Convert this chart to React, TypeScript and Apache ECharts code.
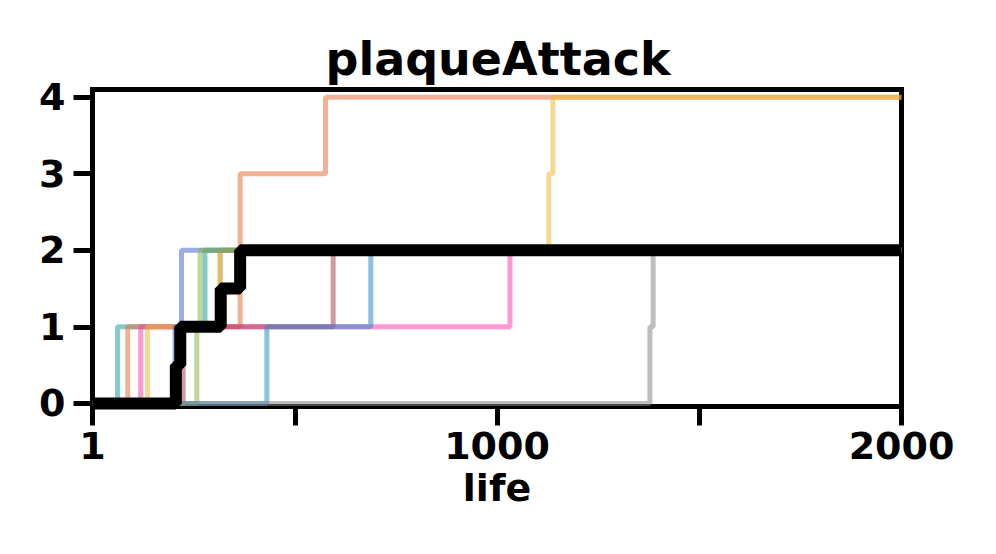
import React, { useEffect, useRef } from "react";
import * as echarts from "echarts";

// ---- data (life -> value breakpoints, step after each point) ----
const teal = [[1, 0], [62, 1], [278, 2], [2000, 2]];
const salmon = [[1, 0], [87, 1], [365, 3], [576, 4], [2000, 4]];
const pink = [[1, 0], [119, 1], [1032, 2], [2000, 2]];
const yellow = [[1, 0], [136, 1], [315, 2], [1128, 3], [1138, 4], [2000, 4]];
const periwinkle = [[1, 0], [204, 1], [220, 2], [2000, 2]];
const hiddenRun = [[1, 0], [214, 1], [316, 2], [2000, 2]];
const dustyRose = [[1, 0], [224, 1], [595, 2], [2000, 2]];
const green = [[1, 0], [258, 1], [266, 2], [2000, 2]];
const blue = [[1, 0], [431, 1], [688, 2], [2000, 2]];
const gray = [[1, 0], [1378, 1], [1386, 2], [2000, 2]];
const median = [[1, 0], [206, 0.5], [217, 1], [317, 1.5], [365, 2], [2000, 2]];

const yTicks = [0, 1, 2, 3, 4];
const xTickLabels: Record<number, string> = { 0: "1", 1000: "1000", 2000: "2000" };

const runs = [
  { name: "run1", data: teal, color: "#1f9f99" },
  { name: "run2", data: salmon, color: "#e57141" },
  { name: "run3", data: pink, color: "#ff41b1" },
  { name: "run4", data: hiddenRun, color: "#b08a5a" },
  { name: "run5", data: yellow, color: "#efb935" },
  { name: "run6", data: periwinkle, color: "#4769cd" },
  { name: "run7", data: dustyRose, color: "#b34157" },
  { name: "run8", data: green, color: "#87b941" },
  { name: "run9", data: blue, color: "#2d8dcd" },
  { name: "run10", data: gray, color: "#898989" },
];

const FONT = "DejaVu Sans";

export default function App() {
  const ref = useRef<HTMLDivElement>(null);
  useEffect(() => {
    if (!ref.current) return;
    const chart = echarts.init(ref.current, null, { renderer: "svg" });
    const series: any[] = runs.map((r) => ({
      name: r.name,
      type: "line",
      step: "end",
      data: r.data,
      symbol: "none",
      lineStyle: { color: r.color, width: 5, opacity: 0.55 },
      z: 2,
    }));
    series.push({
      name: "median",
      type: "line",
      step: "end",
      data: median,
      symbol: "none",
      lineStyle: { color: "#000", width: 12 },
      z: 3,
    });
    chart.setOption({
      animation: false,
      backgroundColor: "#fff",
      title: {
        text: "plaqueAttack",
        left: "center",
        top: 31,
        textStyle: { fontFamily: FONT, fontWeight: "bold", fontSize: 46, color: "#000" },
      },
      grid: {
        left: 92.5,
        right: 94.5,
        top: 89.5,
        bottom: 147.5,
        show: true,
        borderColor: "#000",
        borderWidth: 5,
        backgroundColor: "transparent",
      },
      xAxis: {
        type: "value",
        min: 0,
        max: 2000,
        interval: 500,
        name: "life",
        nameLocation: "middle",
        nameGap: 60,
        nameTextStyle: { fontFamily: FONT, fontWeight: "bold", fontSize: 38, color: "#000" },
        splitLine: { show: false },
        axisLine: { show: true, onZero: false, lineStyle: { color: "#000", width: 5 } },
        axisTick: { show: true, length: 19, lineStyle: { color: "#000", width: 5 } },
        axisLabel: {
          fontFamily: FONT,
          fontWeight: "bold",
          fontSize: 38,
          color: "#000",
          margin: 20,
          formatter: (v: number) => xTickLabels[v] ?? "",
        },
      },
      yAxis: {
        type: "value",
        min: -0.04,
        max: 4.1,
        splitLine: { show: false },
        axisLine: { show: true, lineStyle: { color: "#000", width: 5 } },
        axisTick: { show: true, length: 19, customValues: yTicks, lineStyle: { color: "#000", width: 5 } },
        axisLabel: {
          fontFamily: FONT,
          fontWeight: "bold",
          fontSize: 38,
          color: "#000",
          margin: 27,
          customValues: yTicks,
          formatter: (v: number) => String(v),
        },
      },
      series,
    });
    return () => chart.dispose();
  }, []);
  return (
    <div
      ref={ref}
      style={{ position: "fixed", left: 0, top: 0, width: 996, height: 554, background: "#fff" }}
    />
  );
}
